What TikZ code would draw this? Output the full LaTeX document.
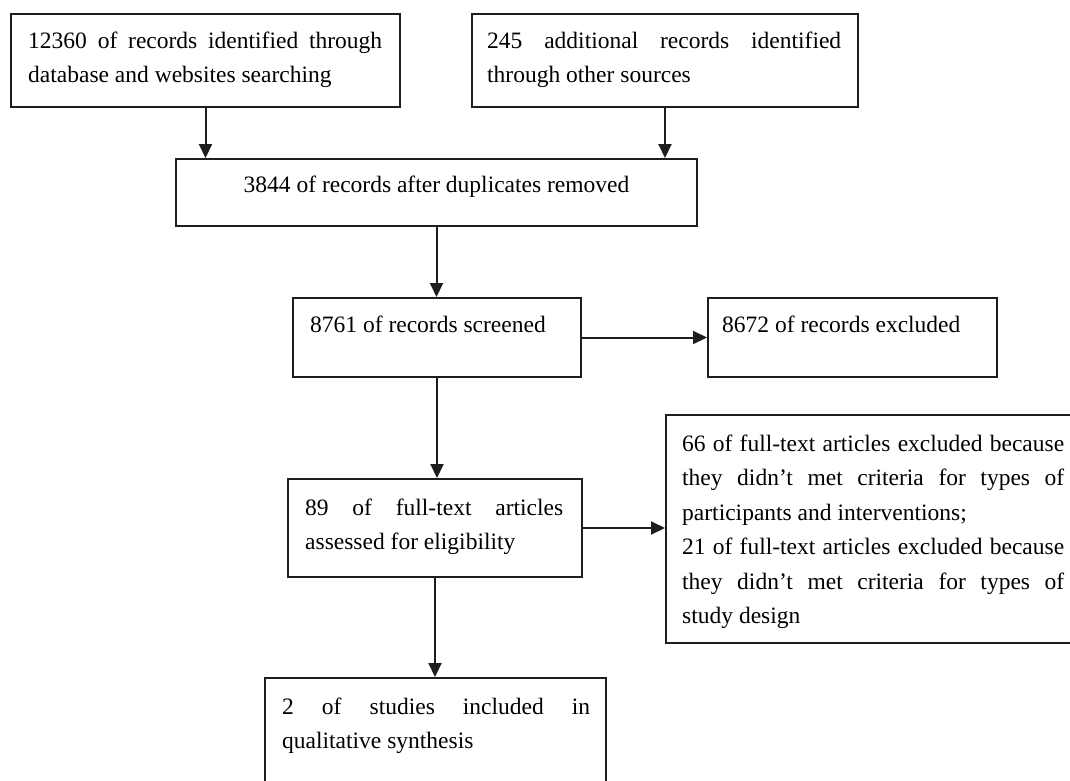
\documentclass[tikz,border=0pt]{standalone}
\usepackage{fontspec}
\setmainfont{Liberation Serif}
\usepackage{tikz}
\usetikzlibrary{arrows.meta,calc}
\definecolor{bg}{HTML}{FFFFFF}
\definecolor{border}{HTML}{1E1E1E}
\definecolor{ink}{HTML}{000000}
\tikzset{
  pbox/.style={draw=border, line width=2pt, fill=bg, inner sep=0pt},
  ptext/.style={text=ink, inner sep=0pt, anchor=north west,
    font=\fontsize{23.5}{34.5}\selectfont},
  jtext/.style={ptext, align=justify},
  flow/.style={draw=border, line width=2pt, -{Triangle[length=14pt,width=13pt]}}
}

\begin{document}
\begin{tikzpicture}[x=1pt, y=-1pt]
  \fill[bg] (0,0) rectangle (1070,780);
  \useasboundingbox (0,0) rectangle (1070,780);

  % boxes
  \node[pbox, minimum width=389pt, minimum height=93pt]  (rec)  at (205.5,60.5) {};
  \node[pbox, minimum width=386pt, minimum height=93pt]  (add)  at (665,60.5) {};
  \node[pbox, minimum width=521pt, minimum height=67pt]  (dup)  at (436.5,192.5) {};
  \node[pbox, minimum width=288pt, minimum height=79pt]  (scr)  at (437,337.5) {};
  \node[pbox, minimum width=289pt, minimum height=79pt]  (exc)  at (852.5,337.5) {};
  \node[pbox, minimum width=294pt, minimum height=98pt]  (full) at (435,528) {};
  \node[pbox, minimum width=414pt, minimum height=228pt] (fexc) at (873,529) {};
  \node[pbox, minimum width=341pt, minimum height=112pt] (inc)  at (435.5,734) {};

  % texts
  \node[jtext, text width=354pt] (recT) at ($(rec.north west)+(18,11)$)
    {\strut 12360 of records identified through\linebreak database and websites searching};
  \node[jtext, text width=354pt] (addT) at ($(add.north west)+(16,11)$)
    {\strut 245 additional records identified\linebreak through other sources};
  \node[ptext, anchor=north] (dupT) at ($(dup.north)+(0,10)$)
    {\strut 3844 of records after duplicates removed};
  \node[ptext] (scrT) at ($(scr.north west)+(18,11)$) {\strut 8761 of records screened};
  \node[ptext] (excT) at ($(exc.north west)+(15,11)$) {\strut 8672 of records excluded};
  \node[jtext, text width=258pt] (fullT) at ($(full.north west)+(18,13)$)
    {\strut 89 of full-text articles\linebreak assessed for eligibility};
  \node[jtext, text width=382pt] (fexcT) at ($(fexc.north west)+(17,13)$)
    {\strut 66 of full-text articles excluded because\linebreak
     they didn’t met criteria for types of\linebreak
     participants and interventions;\par
     \strut 21 of full-text articles excluded because\linebreak
     they didn’t met criteria for types of\linebreak
     study design};
  \node[jtext, text width=308pt] (incT) at ($(inc.north west)+(18,13)$)
    {\strut 2 of studies included in\linebreak qualitative synthesis};

  % arrows
  \draw[flow] (rec.south) -- (rec.south |- dup.north);
  \draw[flow] (add.south) -- (add.south |- dup.north);
  \draw[flow] (dup.south) -- (dup.south |- scr.north);
  \draw[flow] (scr.east) -- (exc.west);
  \draw[flow] (scr.south) -- (scr.south |- full.north);
  \draw[flow] (full.east) -- (full.east -| fexc.west);
  \draw[flow] (full.south) -- (full.south |- inc.north);
\end{tikzpicture}
\end{document}
